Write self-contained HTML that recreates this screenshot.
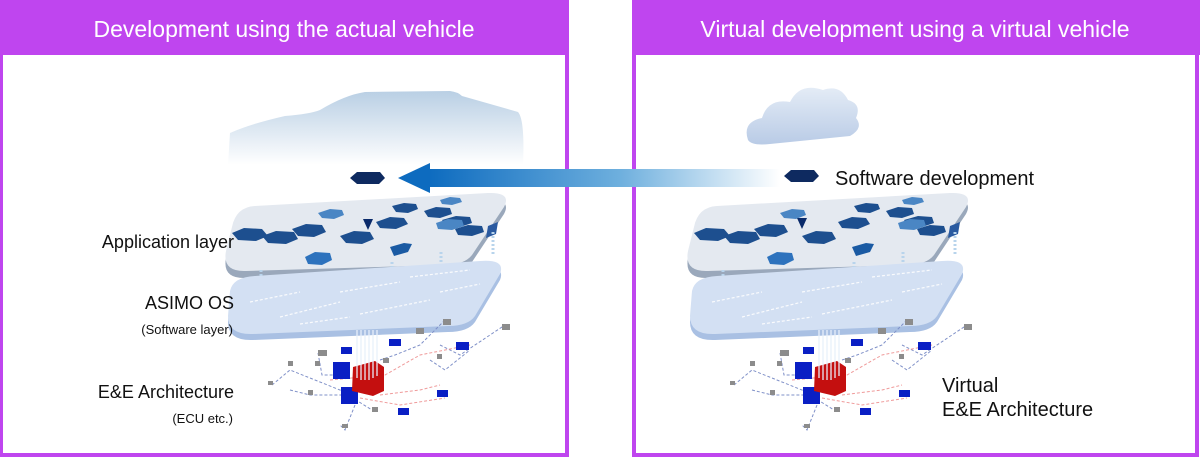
<!DOCTYPE html>
<html><head><meta charset="utf-8"><style>
html,body{margin:0;padding:0;background:#fff;}
svg{display:block;}
text{font-family:"Liberation Sans",sans-serif;}
</style></head><body>
<svg width="1200" height="459" viewBox="0 0 1200 459" xmlns="http://www.w3.org/2000/svg">
<defs>
<linearGradient id="car" x1="0" y1="0" x2="0" y2="1"><stop offset="0" stop-color="#b9cfe4"/><stop offset="1" stop-color="#ffffff"/></linearGradient>
<linearGradient id="arr" x1="0" y1="0" x2="1" y2="0"><stop offset="0" stop-color="#0d6bbf"/><stop offset="0.55" stop-color="#6fb0de"/><stop offset="1" stop-color="#ffffff"/></linearGradient>
<linearGradient id="cloud" x1="0" y1="0" x2="0" y2="1"><stop offset="0" stop-color="#e4ecf6"/><stop offset="1" stop-color="#b9cbe6"/></linearGradient>
<linearGradient id="vline" x1="0" y1="0" x2="0" y2="1"><stop offset="0" stop-color="#ffffff"/><stop offset="1" stop-color="#0a2a6a"/></linearGradient>
<g id="stack">
  <path d="M255 213 L488 200 Q512 199 504 214 L472 262 Q464 272 445 272 L246 278 Q222 279 226 258 L232 234 Q236 214 255 213 Z" fill="#9aa8bb"/>
  <path d="M255 206 L488 193 Q512 192 504 207 L472 255 Q464 265 445 265 L246 271 Q222 272 226 251 L232 227 Q236 207 255 206 Z" fill="#e4e9f0"/>
  <g fill="#1d4f8f">
    <polygon points="232,233 244,228 262,229 268,236 256,241 238,240"/>
    <polygon points="262,236 276,231 294,232 298,239 286,244 268,243"/>
    <polygon points="292,229 306,224 322,225 326,232 314,237 298,236"/>
    <polygon points="340,236 354,231 370,232 374,239 362,244 346,243"/>
    <polygon points="376,222 390,217 404,218 408,224 396,229 380,228"/>
    <polygon points="392,206 404,203 416,204 418,209 408,213 396,212"/>
    <polygon points="424,211 436,207 450,208 452,214 440,218 428,217"/>
    <polygon points="442,220 456,216 470,217 472,223 460,227 446,226"/>
    <polygon points="455,229 468,225 482,226 484,232 472,236 458,235"/>
  </g>
  <g fill="#4a86c4">
    <polygon points="318,213 330,209 342,210 344,215 334,219 322,218"/>
    <polygon points="436,223 448,219 462,220 464,226 452,230 438,229"/>
    <polygon points="440,200 450,197 460,198 462,202 452,205 442,204"/>
  </g>
  <polygon points="305,257 315,252 330,253 332,260 322,265 308,264" fill="#2d72bd"/>
  <polygon points="390,247 404,243 412,244 408,252 394,256" fill="#1a5aa3"/>
  <polygon points="488,226 498,222 496,234 486,238" fill="#2a5aa0"/>
  <g stroke="#b8d4ec" stroke-width="3" stroke-dasharray="2,2">
    <line x1="261" y1="270" x2="261" y2="283"/><line x1="280" y1="282" x2="280" y2="298"/>
    <line x1="334" y1="272" x2="334" y2="292"/><line x1="392" y1="262" x2="392" y2="290"/>
    <line x1="441" y1="252" x2="441" y2="275"/><line x1="493" y1="232" x2="493" y2="255"/>
  </g>
  <path d="M255 282 L480 267 Q506 265 500 280 L475 322 Q468 332 448 332 L253 340 Q228 341 228 322 L230 297 Q233 283 255 282 Z" fill="#a9c0e3"/>
  <path d="M255 276 L480 261 Q506 259 500 274 L475 316 Q468 326 448 326 L253 334 Q228 335 228 316 L230 291 Q233 277 255 276 Z" fill="#d3e0f3"/>
  <g stroke="#ffffff" stroke-width="1.2" stroke-dasharray="3,2" opacity="0.9">
    <line x1="250" y1="302" x2="300" y2="292"/><line x1="280" y1="317" x2="340" y2="302"/>
    <line x1="340" y1="292" x2="400" y2="282"/><line x1="360" y1="314" x2="430" y2="300"/>
    <line x1="410" y1="277" x2="470" y2="270"/><line x1="300" y1="324" x2="350" y2="317"/>
    <line x1="440" y1="292" x2="480" y2="284"/>
  </g>
  <g fill="none" stroke="#7f90c8" stroke-width="1" stroke-dasharray="3,2">
    <path d="M272 385 L290 370 L340 390 L372 410"/><path d="M318 353 L322 375 L340 375"/>
    <path d="M290 390 L310 395 L345 395"/><path d="M380 360 L395 355 L420 345 L445 320"/>
    <path d="M440 345 L460 355 L490 335 L505 325"/><path d="M430 360 L445 370 L470 350"/>
    <path d="M355 405 L345 430 L340 425"/>
  </g>
  <g fill="none" stroke="#ef9a9a" stroke-width="1" stroke-dasharray="3,2">
    <path d="M330 380 L385 375 L420 355 L470 345"/><path d="M380 395 L420 390 L440 385"/>
    <path d="M360 398 L400 405 L445 398"/>
  </g>
  <g fill="#8c8c8c">
    <rect x="318" y="350" width="9" height="6"/><rect x="443" y="319" width="8" height="6"/>
    <rect x="416" y="328" width="8" height="6"/><rect x="502" y="324" width="8" height="6"/>
    <rect x="288" y="361" width="5" height="5"/><rect x="315" y="361" width="5" height="5"/>
    <rect x="268" y="381" width="5" height="4"/><rect x="308" y="390" width="5" height="5"/>
    <rect x="383" y="358" width="6" height="5"/><rect x="437" y="354" width="5" height="5"/>
    <rect x="372" y="407" width="6" height="5"/><rect x="342" y="424" width="6" height="4"/>
  </g>
  <g fill="#0a1fc4">
    <rect x="341" y="347" width="11" height="7"/><rect x="389" y="339" width="12" height="7"/>
    <rect x="456" y="342" width="13" height="8"/><rect x="437" y="390" width="11" height="7"/>
    <rect x="398" y="408" width="11" height="7"/>
    <rect x="333" y="362" width="17" height="17"/><rect x="341" y="387" width="17" height="17"/>
  </g>
  <path d="M353 367 L375 361 L384 367 L384 391 L373 396 L352 391 Z" fill="#c40f0f"/>
  <g stroke="#e8f0fa" stroke-width="1.5" opacity="0.85">
    <line x1="357" y1="330" x2="357" y2="378"/><line x1="361" y1="330" x2="361" y2="380"/>
    <line x1="365" y1="330" x2="365" y2="380"/><line x1="369" y1="330" x2="369" y2="380"/>
    <line x1="373" y1="330" x2="373" y2="378"/><line x1="377" y1="330" x2="377" y2="376"/>
  </g>
</g>
</defs>

<rect x="1" y="1" width="566" height="454" fill="#fff" stroke="#bf45ef" stroke-width="4"/>
<rect x="0" y="0" width="568" height="55" fill="#bf45ef"/>
<text x="284" y="37" text-anchor="middle" font-size="23" fill="#fff">Development using the actual vehicle</text>

<rect x="634" y="1" width="563" height="454" fill="#fff" stroke="#bf45ef" stroke-width="4"/>
<rect x="632" y="0" width="568" height="55" fill="#bf45ef"/>
<text x="915" y="37" text-anchor="middle" font-size="23" fill="#fff">Virtual development using a virtual vehicle</text>

<path d="M230 133 Q250 124 285 116 Q310 114 320 110 Q345 95 365 92 L450 91 Q458 92 462 96 L518 112 Q525 120 523 165 L228 165 Z" fill="url(#car)"/>

<path d="M748 140 Q742 122 762 118 Q768 98 790 102 Q800 82 823 90 Q840 84 848 100 Q862 104 856 118 Q864 128 850 136 L770 144 Q752 146 748 140 Z" fill="url(#cloud)"/>

<rect x="428" y="169" width="352" height="18" fill="url(#arr)"/>
<polygon points="398,178 430,163 430,193" fill="#0d6bbf"/>

<use href="#stack"/>
<use href="#stack" transform="translate(462,0)"/>

<polygon points="350,178 357,172 380,172 385,178 379,184 357,184" fill="#0e2a60"/>
<line x1="368" y1="184" x2="368" y2="221" stroke="url(#vline)" stroke-width="2.5"/>
<polygon points="363,219 373,219 368,230" fill="#0a2a6a"/>
<polygon points="784,176 791,170 814,170 819,176 813,182 791,182" fill="#0e2a60"/>
<line x1="802" y1="182" x2="802" y2="220" stroke="url(#vline)" stroke-width="2.5"/>
<polygon points="797,218 807,218 802,229" fill="#0a2a6a"/>

<g fill="#111" text-anchor="end">
<text x="234" y="248" font-size="18">Application layer</text>
<text x="234" y="309" font-size="18">ASIMO OS</text>
<text x="233" y="334" font-size="13">(Software layer)</text>
<text x="234" y="398" font-size="18">E&amp;E Architecture</text>
<text x="233" y="423" font-size="13">(ECU etc.)</text>
</g>
<g fill="#111">
<text x="835" y="185" font-size="20">Software development</text>
<text x="942" y="392" font-size="20">Virtual</text>
<text x="942" y="416" font-size="20">E&amp;E Architecture</text>
</g>
</svg>
</body></html>
